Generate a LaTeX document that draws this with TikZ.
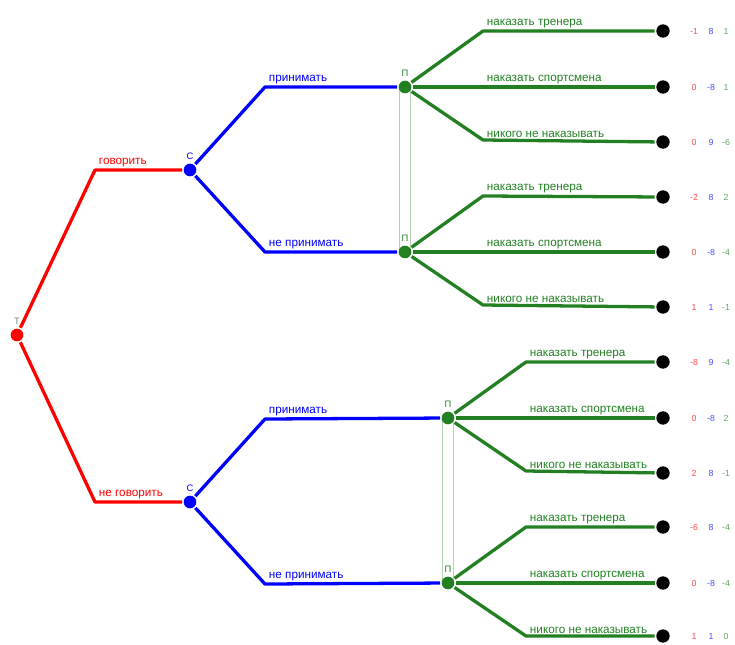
\documentclass[tikz,border=0pt]{standalone}
\usepackage{fontspec}
\setmainfont{Liberation Sans}
\usetikzlibrary{backgrounds}
\definecolor{branchgreen}{RGB}{34,128,34}

\begin{document}
\begin{tikzpicture}[x=0.3mm,y=-0.3mm,line width=2.8pt,line join=round]
    \tikzstyle{vertex}=[circle,minimum size=3.8mm,inner sep=0pt]
    \tikzstyle{tnode}=[vertex, fill=red];
    \tikzstyle{cnode}=[vertex, fill=blue];
    \tikzstyle{pnode}=[vertex, fill=branchgreen];
    \tikzstyle{leaf}=[vertex, fill=black, minimum size=4mm];
    \tikzstyle{who}=[font=\fontsize{8}{9}\selectfont, inner sep=1pt]
    \tikzstyle{move}=[font=\fontsize{10}{11}\selectfont, anchor=south west, inner sep=1pt, xshift=1pt]
    \tikzstyle{pay}=[font=\fontsize{7.5}{8}\selectfont]
    \tikzstyle{infoset}=[draw=branchgreen!35, line width=0.5pt]

    \useasboundingbox (0,0) rectangle (735,644);

    % Draw the root
    \node[tnode, label={[who,gray]above:Т}] (T) at (17,335) {};

    % Draw the second level nodes
    \node[cnode, label={[who,blue]above:С}] (C-1) at (190,170) {};
    \node[cnode, label={[who,blue]above:С}] (C-2) at (190,502) {};

    % Draw the third level nodes
    \foreach \name / \x / \y in {1/405/87, 2/405/252, 3/448/418, 4/448/583}
        \node[pnode, label={[who,branchgreen]above:П}] (P-\name) at (\x,\y) {};

    % Draw the leaves and their payoffs
    \foreach \name / \y / \a / \b / \c in {1/31/-1/8/1, 2/87/0/-8/1, 3/142/0/9/-6,
        4/197/-2/8/2, 5/252/0/-8/-4, 6/307/1/1/-1, 7/362/-8/9/-4, 8/418/0/-8/2,
        9/473/2/8/-1, 10/527/-6/8/-4, 11/583/0/-8/-4, 12/636/1/1/0}
    {
        \node[leaf] (L-\name) at (663,\y) {};
        \node[pay, red!70] at (694,\y) {\a};
        \node[pay, blue!70] at (711,\y) {\b};
        \node[pay, branchgreen!70] at (726,\y) {\c};
    }

    % Connect the root with the second level
    \draw[red] (T) -- (95,170) node[move, red] {говорить} -- (C-1);
    \draw[red] (T) -- (95,502) node[move, red] {не говорить} -- (C-2);

    % Connect the second level with the third level
    \foreach \c / \up / \down in {1/1/2, 2/3/4}
    {
        \draw[blue] (C-\c) -- ++(75,-83) node[move, blue] {принимать} -- (P-\up);
        \draw[blue] (C-\c) -- ++(75,82) node[move, blue] {не принимать} -- (P-\down);
    }

    % Connect every third level node with its leaves
    \foreach \p / \x / \y / \a / \b / \c in {1/405/87/1/2/3, 2/405/252/4/5/6,
        3/448/418/7/8/9, 4/448/583/10/11/12}
    {
        \draw[branchgreen] (P-\p) -- (\x+78,\y-56) node[move, branchgreen] {наказать тренера} -- (L-\a);
        \draw[branchgreen] (P-\p) -- (L-\b);
        \node[move, branchgreen] at (\x+78,\y) {наказать спортсмена};
        \draw[branchgreen] (P-\p) -- (\x+78,\y+53) node[move, branchgreen] {никого не наказывать} -- (L-\c);
    }

    % Information sets, behind the nodes
    \begin{scope}[on background layer]
        \draw[infoset] ([xshift=-1.6mm]P-1.center) rectangle ([xshift=1.6mm]P-2.center);
        \draw[infoset] ([xshift=-1.6mm]P-3.center) rectangle ([xshift=1.6mm]P-4.center);
    \end{scope}

\end{tikzpicture}
\end{document}
